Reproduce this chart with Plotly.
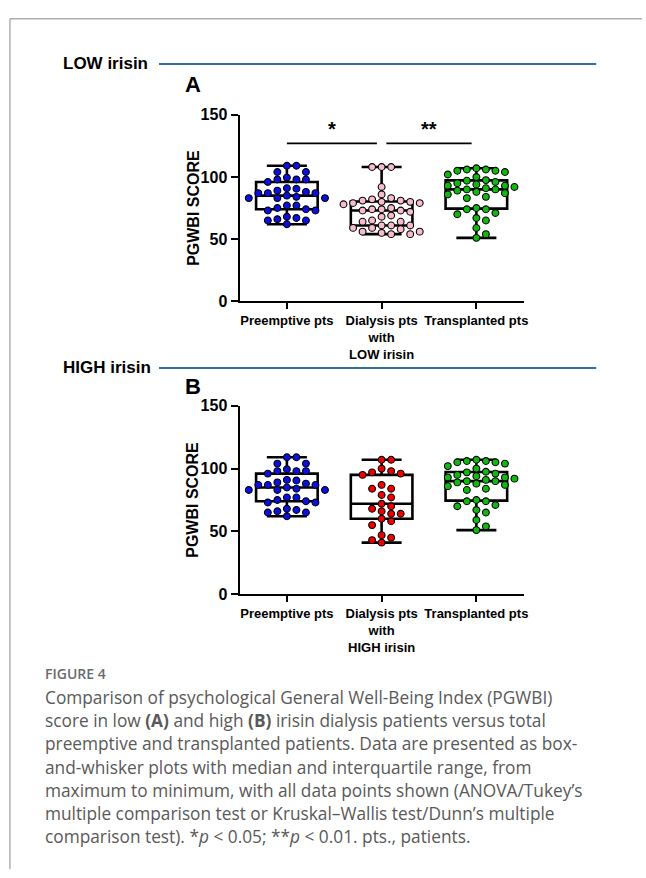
import numpy as np
import plotly.graph_objects as go

W, H = 646, 878

categories_a = ["Preemptive pts", "Dialysis pts<br>with<br>LOW irisin", "Transplanted pts"]
categories_b = ["Preemptive pts", "Dialysis pts<br>with<br>HIGH irisin", "Transplanted pts"]
y_ticks = [0, 50, 100, 150]

preemptive = [109, 109, 104, 104, 99.5, 98, 98, 98, 96, 91, 90.5, 89, 88, 87, 87, 87, 85, 84,
              83, 83, 83, 77, 77, 75, 74, 73, 73, 68, 67, 66, 65, 65, 62]
dialysis_low = [108, 108, 108, 92, 86, 83, 82, 81, 81, 80, 80, 79, 79, 78, 75, 74, 74, 73, 73,
                72, 69, 68, 65, 64, 64, 61, 61, 61, 59, 59, 58, 56, 56, 55, 54, 54]
dialysis_high = [107, 107, 100, 98, 97, 96, 95, 87, 84, 84, 79, 77, 72, 70, 68, 66, 64, 64, 60,
                 58, 55, 47, 45, 43, 41]
transplanted = [107, 106, 106, 105, 105, 104, 102, 100, 97.5, 97, 96, 95, 94, 93, 93, 92, 91, 90,
                90, 89, 88, 87, 86, 84, 83, 75, 74, 74, 71, 70, 67, 65, 59, 54, 51]

colors = {"blue": "#0a10e0", "pink": "#f6bccb", "green": "#10b810", "red": "#f00000"}
sig_a = [("*", 0, 0.95), ("**", 1.05, 1.95)]

AX = "Liberation Sans, Arial, sans-serif"
CAP = "Open Sans, sans-serif"


def px(x):
    return x / W


def py(y):
    return 1 - y / H


def swarm(vals, px_per_unit, col_px=9.6, diam=7.2, cat_px=95.5):
    order = sorted(range(len(vals)), key=lambda i: -vals[i])
    placed = []
    offs = [0.0] * len(vals)
    cands = [0]
    for k in range(1, 8):
        cands += [k, -k]
    for i in order:
        y = vals[i] * px_per_unit
        for c in cands:
            if all(not (pc == c and abs(pyy - y) < diam) for pc, pyy in placed):
                placed.append((c, y))
                offs[i] = c * col_px / cat_px
                break
    return offs


fig = go.Figure()

panels = [
    dict(xa="x", ya="y", top=109, bottom=299, groups=[(preemptive, "blue"), (dialysis_low, "pink"), (transplanted, "green")]),
    dict(xa="x2", ya="y2", top=405.7, bottom=597.7, groups=[(preemptive, "blue"), (dialysis_high, "red"), (transplanted, "green")]),
]

for p in panels:
    ppu = (p["bottom"] - p["top"]) / 150
    for gi, (vals, col) in enumerate(p["groups"]):
        arr = np.array(vals, dtype=float)
        q1, med, q3 = np.percentile(arr, [25, 50, 75])
        fig.add_trace(go.Box(
            x=[gi], q1=[q1], median=[med], q3=[q3], lowerfence=[arr.min()], upperfence=[arr.max()],
            width=0.65, whiskerwidth=0.65, boxpoints=False,
            line=dict(color="black", width=2.6), fillcolor="rgba(0,0,0,0)",
            xaxis=p["xa"], yaxis=p["ya"], showlegend=False, hoverinfo="skip"))
        offs = swarm(vals, ppu)
        fig.add_trace(go.Scatter(
            x=[gi + o for o in offs], y=vals, mode="markers",
            marker=dict(size=6.8, color=colors[col], line=dict(color="black", width=1.1)),
            xaxis=p["xa"], yaxis=p["ya"], showlegend=False, cliponaxis=False))

x_dom = [px(241), px(527)]
common_x = dict(range=[-0.5, 2.5], tickvals=[0, 1, 2], showline=True, linecolor="black", linewidth=2,
                ticks="outside", ticklen=6, tickwidth=2, tickcolor="black", showgrid=False, zeroline=False,
                tickfont=dict(family=AX, size=13, color="black", weight="bold"), domain=x_dom, fixedrange=True)
common_y = dict(range=[0, 150], tickvals=y_ticks, showline=True, linecolor="black", linewidth=2,
                ticks="outside", ticklen=7, tickwidth=2, tickcolor="black", showgrid=False, zeroline=False,
                tickfont=dict(family=AX, size=16, color="black", weight="bold"), fixedrange=True)

fig.update_layout(
    width=W, height=H, margin=dict(l=0, r=0, t=0, b=0),
    paper_bgcolor="white", plot_bgcolor="white",
    xaxis=dict(common_x, ticktext=categories_a, anchor="y"),
    yaxis=dict(common_y, domain=[py(299), py(109)], anchor="x"),
    xaxis2=dict(common_x, ticktext=categories_b, anchor="y2"),
    yaxis2=dict(common_y, domain=[py(597.7), py(405.7)], anchor="x2"),
)

shapes = []
annotations = []

# border lines
shapes.append(dict(type="line", xref="paper", yref="paper", x0=px(10), x1=1, y0=py(11), y1=py(11), line=dict(color="#b0b0b0", width=1.5)))
shapes.append(dict(type="line", xref="paper", yref="paper", x0=px(10), x1=px(10), y0=py(11), y1=0, line=dict(color="#b0b0b0", width=1.5)))

# section headers
for label, yline, letter, yletter in [("LOW irisin", 57, "A", 78), ("HIGH irisin", 367, "B", 386)]:
    annotations.append(dict(text=f"<b>{label}</b>", x=px(61), y=py(yline), xref="paper", yref="paper",
                            xanchor="left", yanchor="middle", showarrow=False,
                            font=dict(family=AX, size=17, color="black")))
    shapes.append(dict(type="line", xref="paper", yref="paper", x0=px(160), x1=px(600), y0=py(yline), y1=py(yline),
                       line=dict(color="#33709b", width=2)))
    annotations.append(dict(text=f"<b>{letter}</b>", x=px(184), y=py(yletter), xref="paper", yref="paper",
                            xanchor="left", yanchor="middle", showarrow=False,
                            font=dict(family=AX, size=22, color="black")))

# y axis titles
for top, bottom in [(109, 299), (405.7, 597.7)]:
    annotations.append(dict(text="<b>PGWBI SCORE</b>", x=px(194), y=py((top + bottom) / 2), xref="paper", yref="paper",
                            textangle=-90, xanchor="center", yanchor="middle", showarrow=False,
                            font=dict(family=AX, size=16, color="black")))

# significance bars (panel A)
for star, x0, x1 in sig_a:
    shapes.append(dict(type="line", xref="x", yref="y", x0=x0, x1=x1, y0=127, y1=127, line=dict(color="black", width=1.8)))
    annotations.append(dict(text=f"<b>{star}</b>", x=(x0 + x1) / 2, y=127, xref="x", yref="y",
                            xanchor="center", yanchor="bottom", yshift=1, showarrow=False,
                            font=dict(family=AX, size=20, color="black")))

# caption
annotations.append(dict(text="FIGURE 4", x=px(43), y=py(679), xref="paper", yref="paper", xanchor="left", yanchor="middle",
                        showarrow=False, font=dict(family=CAP, size=14, color="#6a6a6a", weight=600)))
caption_lines = [
    "Comparison of psychological General Well-Being Index (PGWBI)",
    "score in low <b>(A)</b> and high <b>(B)</b> irisin dialysis patients versus total",
    "preemptive and transplanted patients. Data are presented as box-",
    "and-whisker plots with median and interquartile range, from",
    "maximum to minimum, with all data points shown (ANOVA/Tukey\u2019s",
    "multiple comparison test or Kruskal\u2013Wallis test/Dunn\u2019s multiple",
    "comparison test). *<i>p</i> &lt; 0.05; **<i>p</i> &lt; 0.01. pts., patients.",
]
for i, line in enumerate(caption_lines):
    annotations.append(dict(text=line, x=px(43), y=py(703 + 23.7 * i), xref="paper", yref="paper",
                            xanchor="left", yanchor="middle", showarrow=False,
                            font=dict(family=CAP, size=17.3, color="#595959")))

fig.update_layout(shapes=shapes, annotations=annotations)
fig.write_html("out.html", config={"displayModeBar": False, "staticPlot": True},
               post_script="document.body.style.margin='0';document.body.style.overflow='hidden';")
